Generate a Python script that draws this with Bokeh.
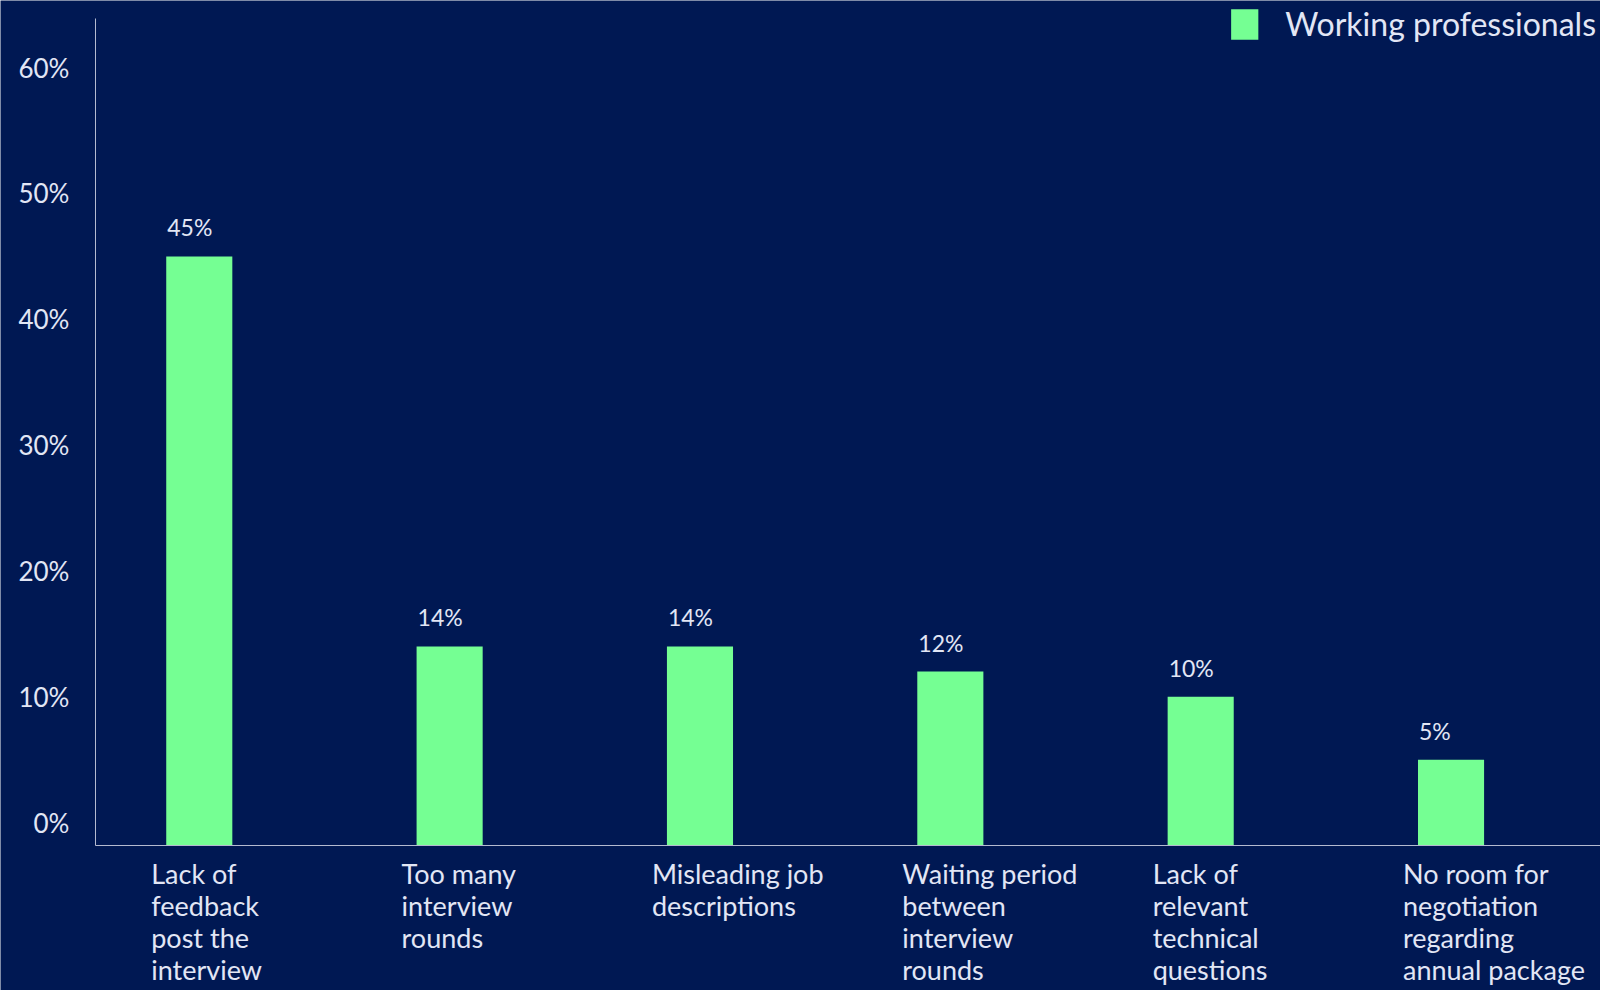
from bokeh.plotting import figure
from bokeh.models import Range1d, FixedTicker, ColumnDataSource
from bokeh.embed import file_html
from bokeh.resources import INLINE
from bokeh.core.properties import value

# ---- data ----
categories = [
    "Lack of\nfeedback\npost the\ninterview",
    "Too many\ninterview\nrounds",
    "Misleading job\n descriptions",
    "Waiting period\nbetween\ninterview\nrounds",
    "Lack of\nrelevant\ntechnical\nquestions",
    "No room for\nnegotiation\nregarding\nannual package",
]
values = [45, 14, 14, 12, 10, 5]
value_labels = ["45%", "14%", "14%", "12%", "10%", "5%"]
y_ticks = [0, 10, 20, 30, 40, 50, 60]
y_tick_labels = ["0%", "10%", "20%", "30%", "40%", "50%", "60%"]
series_name = "Working professionals"

# ---- style ----
BG = "#001853"
BAR = "#75FF93"
TXT = "#E2E6F5"
AXIS = "#B4BAD0"
FONT = "Lato"
x_start, x_end = -0.794, 5.597
x_axis_pos = -0.415       # where the vertical axis line sits
y_start, y_end = -13.35, 65.34
y_base = -1.83            # where the horizontal axis line sits
axis_top = 63.9
bar_w = 0.264

idx = list(range(len(categories)))
src = ColumnDataSource(dict(
    x=idx,
    top=values,
    bottom=[y_base] * len(values),
    lx=[i - bar_w / 2 for i in idx],
    lab=value_labels,
    cat=categories,
))

p = figure(width=1600, height=990,
           x_range=Range1d(x_start, x_end), y_range=Range1d(y_start, y_end),
           output_backend="svg", toolbar_location=None,
           min_border_left=0, min_border_right=0, min_border_top=0, min_border_bottom=0)
p.background_fill_color = BG
p.border_fill_color = BG
p.outline_line_color = None
p.xgrid.visible = False
p.ygrid.visible = False

p.vbar(x="x", top="top", bottom="bottom", width=bar_w, source=src,
       fill_color=BAR, line_color=None, legend_label=series_name)

p.text(x="lx", y="top", text="lab", source=src, text_align="left",
       text_baseline="alphabetic", x_offset=1, y_offset=-29, text_color=TXT,
       text_font=value(FONT), text_font_size="23px")

# category labels under the axis line
p.text(x="lx", y="bottom", text="cat", source=src, text_align="left",
       text_baseline="top", x_offset=-15, y_offset=11, text_color=TXT,
       text_font=value(FONT), text_font_size="27px", text_line_height=0.97)

# y axis
ya = p.yaxis[0]
ya.fixed_location = x_axis_pos
ya.ticker = FixedTicker(ticks=y_ticks)
ya.major_label_overrides = {t: l for t, l in zip(y_ticks, y_tick_labels)}
ya.bounds = (y_base, axis_top)
ya.axis_line_color = AXIS
ya.major_tick_line_color = None
ya.minor_tick_line_color = None
ya.major_tick_out = 0
ya.major_label_standoff = 26
ya.major_label_text_color = TXT
ya.major_label_text_font = FONT
ya.major_label_text_font_size = "26px"

# x axis: line only
xa = p.xaxis[0]
xa.fixed_location = y_base
xa.bounds = (x_axis_pos, x_end)
xa.ticker = FixedTicker(ticks=[])
xa.axis_line_color = AXIS
xa.major_tick_line_color = None
xa.minor_tick_line_color = None
xa.major_tick_out = 0
xa.major_label_text_font_size = "0px"

# legend
lg = p.legend[0]
lg.location = "top_right"
lg.margin = 4
lg.padding = 0
lg.spacing = 0
lg.glyph_width = 34
lg.glyph_height = 38
lg.label_height = 38
lg.label_standoff = 24
lg.label_text_font = FONT
lg.label_text_font_size = "32px"
lg.label_text_color = TXT
lg.background_fill_alpha = 0
lg.border_line_alpha = 0

open("out.html", "w").write(file_html(p, INLINE))
